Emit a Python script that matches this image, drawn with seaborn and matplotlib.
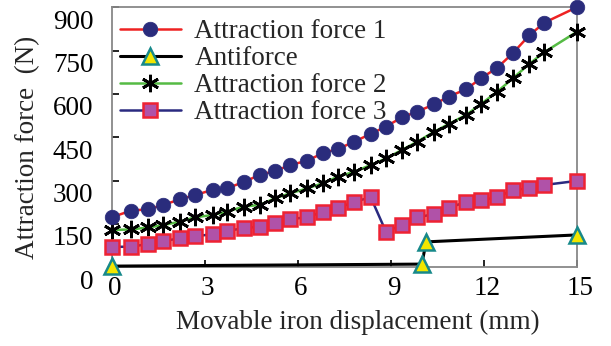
import matplotlib
matplotlib.use("Agg")
import matplotlib.pyplot as plt
import matplotlib.transforms as mtransforms
import seaborn as sns

# displacement (mm) shared by the three attraction curves
disp = [0, 0.63, 1.19, 1.67, 2.2, 2.69, 3.26, 3.71, 4.26, 4.78, 5.27, 5.76, 6.31, 6.81,
        7.31, 7.83, 8.36, 8.85, 9.36, 9.86, 10.4, 10.87, 11.43, 11.91, 12.44, 12.94,
        13.47, 13.96, 15]
force1 = [173, 196, 201, 216, 235, 250, 268, 273, 295, 320, 333, 354, 369, 395,
          410, 435, 462, 487, 519, 539, 564, 591, 616, 654, 691, 741, 803, 847, 900]
force2 = [129, 131, 138, 146, 158, 173, 181, 192, 210, 216, 239, 256, 273, 291,
          314, 331, 354, 377, 406, 435, 469, 496, 527, 565, 608, 654, 704, 745, 815]
force3 = [71, 71, 81, 91, 100, 108, 114, 126, 135, 141, 152, 167, 173, 192,
          205, 227, 242, 123, 146, 173, 184, 206, 226, 233, 242, 268, 273, 285, 299]

anti_disp = [0, 10.0, 10.15, 15]
antiforce = [4, 11, 88, 112]

xticks = [0, 3, 6, 9, 12, 15]
yticks = [0, 150, 300, 450, 600, 750, 900]

sns.set_style("ticks")
plt.rcParams["font.family"] = ["Liberation Serif", "DejaVu Serif"]

fig = plt.figure(figsize=(6.11, 3.46), dpi=100)
ax = fig.add_axes([0.1825, 0.2275, 0.7614, 0.7514])

sns.lineplot(x=disp, y=force1, ax=ax, color="#ee2222", lw=1.8, marker="o", ms=10.5,
             mfc="#2a2c7c", mec="#2a2c7c", mew=0.5, label="Attraction force 1",
             estimator=None, sort=False, clip_on=False, zorder=5)
sns.lineplot(x=anti_disp, y=antiforce, ax=ax, color="black", lw=2.2, marker="^", ms=11.5,
             mfc="#f2e600", mec="#17898a", mew=1.8, label="Antiforce",
             estimator=None, sort=False, clip_on=False, zorder=4)
sns.lineplot(x=disp, y=force2, ax=ax, color="#55bb44", lw=1.8, marker=(6, 2, 0), ms=12.5,
             mfc="black", mec="black", mew=2.0, label="Attraction force 2",
             estimator=None, sort=False, clip_on=False, zorder=3)
sns.lineplot(x=disp, y=force3, ax=ax, color="#2a2a80", lw=1.8, marker="s", ms=9.4,
             mfc="#b052a8", mec="#ee2233", mew=1.8, label="Attraction force 3",
             estimator=None, sort=False, clip_on=False, zorder=3)

ax.set_xlim(0, 15)
ax.set_ylim(0, 900)
ax.set_xticks(xticks)
ax.set_yticks(yticks)
ax.tick_params(direction="in", length=5, width=1.2, color="black",
               labelsize=19.5, labelcolor="black")
ax.tick_params(axis="y", pad=13)
ax.tick_params(axis="x", pad=6.5)
for sp in ax.spines.values():
    sp.set_color("#888888")
    sp.set_linewidth(1.3)

# tick labels in the source sit a little below / right of their ticks
yoff = mtransforms.ScaledTranslation(0, -0.12, fig.dpi_scale_trans)
for lbl in ax.get_yticklabels():
    lbl.set_transform(lbl.get_transform() + yoff)
xoff = mtransforms.ScaledTranslation(0.03, 0, fig.dpi_scale_trans)
for lbl in ax.get_xticklabels():
    lbl.set_transform(lbl.get_transform() + xoff)

ax.set_xlabel("Movable iron displacement (mm)", fontsize=19.5, va="center")
ax.xaxis.set_label_coords(0.53, -0.214)
ax.set_ylabel("Attraction force  (N)", fontsize=19.5, va="center")
ax.yaxis.set_label_coords(-0.18, 0.463)

ax.legend(loc="upper left", bbox_to_anchor=(0.018, 0.955), frameon=False,
          fontsize=19.5, handlelength=2.25, handletextpad=0.5, labelspacing=0.08,
          borderaxespad=0, borderpad=0, numpoints=1)

fig.savefig("out.png", dpi=100)
plt.close(fig)
